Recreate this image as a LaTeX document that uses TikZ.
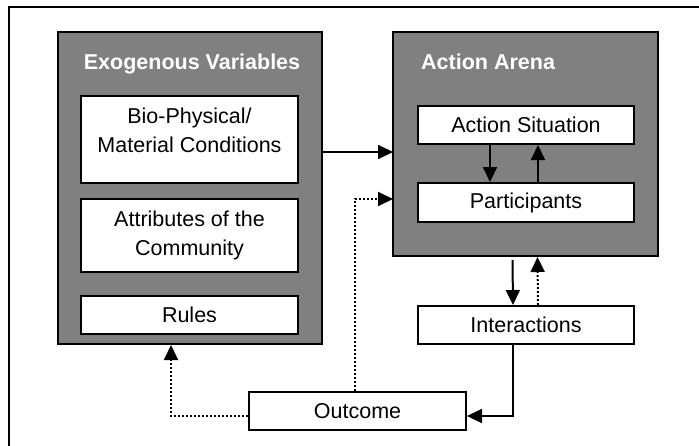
\documentclass[tikz,border=0pt]{standalone}
\usepackage{fontspec}
\setmainfont{Liberation Sans}
\usetikzlibrary{arrows.meta}
\tikzset{
  panel/.style={draw, line width=2pt, fill=black!50, inner sep=0pt},
  item/.style={draw, line width=2pt, fill=white, align=center, inner sep=0pt,
    font=\fontsize{21.5}{29.5}\selectfont},
  title/.style={text=white, inner sep=0pt, font=\bfseries\fontsize{21.5}{25}\selectfont},
  flow/.style={line width=2pt, -{Triangle[length=15pt,width=14pt]}},
  back/.style={flow, dotted},
}

\begin{document}
\begin{tikzpicture}[x=1pt, y=-1pt]
  \useasboundingbox (0,0) rectangle (699,445);
  \begin{scope}
    \clip (0,0) rectangle (699,445);
    \draw[line width=1.5pt] (9,7) rectangle (720,470);
  \end{scope}

  % panels
  \node[panel, minimum width=264pt, minimum height=312pt] (exo) at (190,188) {};
  \node[panel, minimum width=265pt, minimum height=224pt] (arena) at (525.5,144) {};
  \node[title, anchor=base] (exotitle) at (192,69) {Exogenous Variables};
  \node[title, anchor=base west] (arenatitle) at (421,69) {Action Arena};

  % boxes
  \node[item, minimum width=217pt, minimum height=87pt] (bio) at (189.5,139.5) {Bio-Physical/\\Material Conditions\\[-20pt]\strut};
  \node[item, minimum width=217pt, minimum height=73pt] (attr) at (189.5,235.5) {Attributes of the\\Community};
  \node[item, minimum width=217pt, minimum height=38pt] (rules) at (189.5,315) {Rules};
  \node[item, minimum width=216pt, minimum height=38pt] (sit) at (526,125) {Action Situation};
  \node[item, minimum width=216pt, minimum height=39pt] (part) at (526,202.5) {Participants};
  \node[item, minimum width=216pt, minimum height=38pt] (inter) at (526,325) {Interactions};
  \node[item, minimum width=217pt, minimum height=38pt] (outc) at (357.5,411) {Outcome};

  \coordinate (exoin) at (393,152);
  \coordinate (fbin) at (393,199);

  % links
  \draw[flow] (exo.east |- exoin) -- (exoin);
  \draw[flow] ([xshift=-36pt]sit.south) -- ([xshift=-36pt]part.north);
  \draw[flow] ([xshift=12pt]part.north) -- ([xshift=12pt]sit.south);
  \draw[flow] ([xshift=-13pt,yshift=-3pt]arena.south) -- ([xshift=-13pt]inter.north);
  \draw[back] ([xshift=12pt]inter.north) -- ([xshift=12pt]arena.south);
  \draw[flow] ([xshift=-13pt]inter.south) |- ([yshift=-5pt]outc.east);
  \draw[back] ([yshift=-5pt]outc.west) -| ([xshift=-19pt]exo.south);
  \draw[back] ([xshift=-2.5pt]outc.north) |- (fbin);
\end{tikzpicture}
\end{document}
